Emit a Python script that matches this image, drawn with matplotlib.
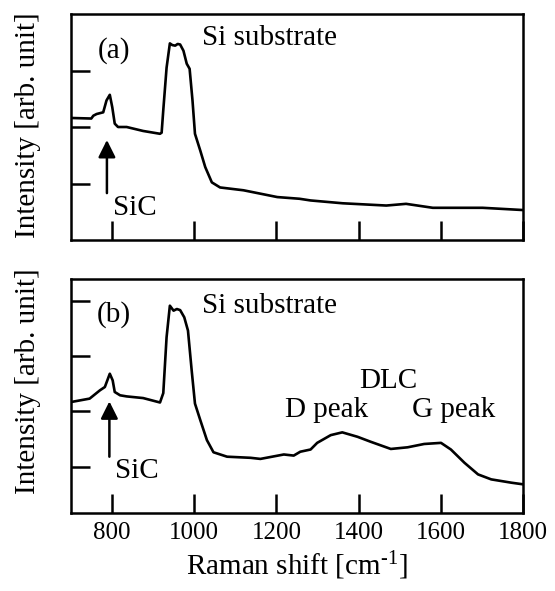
import matplotlib
matplotlib.use('Agg')
import matplotlib.pyplot as plt
from matplotlib import rcParams

# Raman shift [cm-1] and intensity (arb. unit)
shift_a = [700, 750, 755, 763, 779, 787, 795, 801, 807, 815, 836, 876, 917, 921,
           925, 933, 941, 947, 954, 960, 966, 974, 982, 989, 996, 1002, 1015, 1027,
           1043, 1063, 1120, 1202, 1256, 1283, 1361, 1467, 1515, 1580, 1701, 1800]
inten_a = [2.16, 2.15, 2.20, 2.23, 2.26, 2.47, 2.57, 2.35, 2.06, 2.00, 2.00, 1.93, 1.88, 1.90,
           2.30, 3.05, 3.48, 3.45, 3.44, 3.47, 3.46, 3.35, 3.12, 3.03, 2.47, 1.88, 1.58, 1.29,
           1.02, 0.93, 0.88, 0.76, 0.73, 0.70, 0.65, 0.61, 0.64, 0.57, 0.57, 0.53]

shift_b = [702, 746, 771, 783, 795, 802, 807, 820, 836, 876, 917, 925, 933, 941, 950,
           958, 966, 976, 985, 994, 1002, 1015, 1031, 1047, 1080, 1137, 1161, 1218, 1242,
           1258, 1283, 1299, 1332, 1360, 1397, 1429, 1478, 1519, 1559, 1600, 1624, 1657,
           1690, 1722, 1771, 1800]
inten_b = [2.17, 2.23, 2.38, 2.44, 2.68, 2.56, 2.35, 2.29, 2.27, 2.24, 2.16, 2.33, 3.34, 3.91, 3.82,
           3.85, 3.83, 3.70, 3.46, 2.74, 2.14, 1.84, 1.48, 1.26, 1.18, 1.16, 1.14, 1.22, 1.20,
           1.27, 1.31, 1.43, 1.57, 1.62, 1.54, 1.45, 1.32, 1.35, 1.41, 1.43, 1.31, 1.07,
           0.86, 0.77, 0.71, 0.68]

xticks = [800, 1000, 1200, 1400, 1600, 1800]

rcParams['font.family'] = 'serif'
rcParams['font.serif'] = ['Liberation Serif', 'DejaVu Serif']
rcParams['mathtext.fontset'] = 'custom'
rcParams['mathtext.rm'] = 'Liberation Serif'
rcParams['mathtext.it'] = 'Liberation Serif:italic'


def style_axes(ax, yticks):
    ax.set_xlim(700, 1800)
    ax.set_xticks(xticks)
    ax.set_yticks(yticks)
    ax.set_yticklabels([])
    ax.tick_params(direction='in', length=14, width=1.8, top=False, right=False,
                   labelsize=18, pad=6)
    for s in ax.spines.values():
        s.set_linewidth(1.8)


fig = plt.figure(figsize=(5.55, 5.91), dpi=100)
ax1 = fig.add_axes([0.1274, 0.5939, 0.8155, 0.3824])
ax2 = fig.add_axes([0.1274, 0.1315, 0.8155, 0.3959])

ax1.plot(shift_a, inten_a, 'k-', lw=1.9, solid_joinstyle='round')
ax1.set_ylim(0, 4)
style_axes(ax1, [1, 2, 3])
ax1.set_xticklabels([])

ax2.plot(shift_b, inten_b, 'k-', lw=1.9, solid_joinstyle='round')
ax2.set_ylim(0.157, 4.387)
style_axes(ax2, [1, 2, 3, 4])

arrow = dict(arrowstyle='-|>', color='k', lw=1.8, mutation_scale=26, shrinkA=0, shrinkB=0)
fs = 21

ax1.text(805, 3.22, '(a)', fontsize=fs, ha='center', va='baseline')
ax1.text(1019, 3.46, 'Si substrate', fontsize=fs, ha='left', va='baseline')
ax1.annotate('', xy=(788, 1.77), xytext=(788, 0.83), arrowprops=arrow)
ax1.text(803, 0.44, 'SiC', fontsize=fs, ha='left', va='baseline')

ax2.text(804, 3.62, '(b)', fontsize=fs, ha='center', va='baseline')
ax2.text(1019, 3.78, 'Si substrate', fontsize=fs, ha='left', va='baseline')
ax2.annotate('', xy=(794, 2.18), xytext=(794, 1.18), arrowprops=arrow)
ax2.text(808, 0.79, 'SiC', fontsize=fs, ha='left', va='baseline')
ax2.text(1472, 2.42, 'DLC', fontsize=fs, ha='center', va='baseline')
ax2.text(1322, 1.90, 'D peak', fontsize=fs, ha='center', va='baseline')
ax2.text(1630, 1.90, 'G peak', fontsize=fs, ha='center', va='baseline')

ax2.set_xlabel(r'Raman shift [cm$^{\text{-1}}$]', fontsize=21, labelpad=4)

fig.text(28.5 / 555, 1 - 125 / 591, 'Intensity [arb. unit]', rotation=90,
         ha='center', va='center', fontsize=21)
fig.text(28.5 / 555, 1 - 381 / 591, 'Intensity [arb. unit]', rotation=90,
         ha='center', va='center', fontsize=21)

fig.savefig('out.png', dpi=100)
plt.close(fig)
